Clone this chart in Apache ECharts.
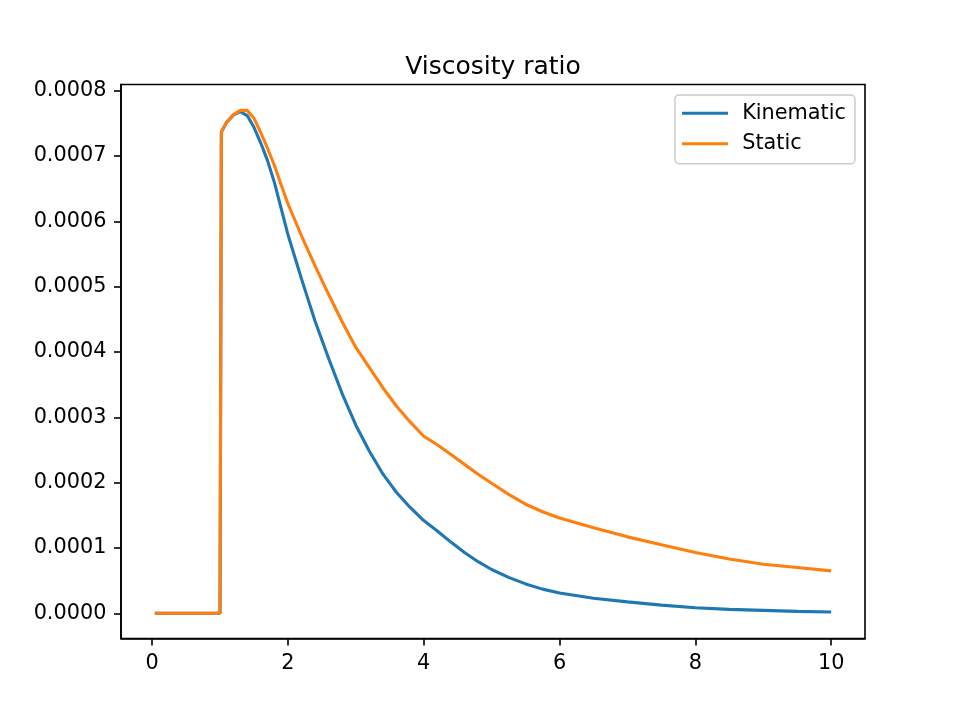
<!DOCTYPE html>
<html>
<head>
<meta charset="utf-8">
<script src="https://cdn.jsdelivr.net/npm/echarts@6/dist/echarts.min.js"></script>
<style>
html,body{margin:0;padding:0;background:#fff;}
#chart{width:961px;height:719px;}
</style>
</head>
<body>
<div id="chart"></div>
<script>
const titleText = 'Viscosity ratio';
const seriesNames = ['Kinematic', 'Static'];
const xValues = [0.04, 0.5, 1.0, 1.02, 1.1, 1.2, 1.3, 1.4, 1.5, 1.6, 1.7, 1.8, 1.9, 2.0, 2.2, 2.4, 2.6, 2.8, 3.0, 3.2, 3.4, 3.6, 3.8, 4.0, 4.2, 4.4, 4.6, 4.8, 5.0, 5.25, 5.5, 5.75, 6.0, 6.5, 7.0, 7.5, 8.0, 8.5, 9.0, 9.5, 10.0];
const kinematic = [0, 0, 0, 7.37e-4, 7.52e-4, 7.63e-4, 7.68e-4, 7.62e-4, 7.44e-4, 7.2e-4, 6.93e-4, 6.6e-4, 6.2e-4, 5.8e-4, 5.12e-4, 4.47e-4, 3.9e-4, 3.36e-4, 2.88e-4, 2.48e-4, 2.13e-4, 1.85e-4, 1.62e-4, 1.42e-4, 1.26e-4, 1.09e-4, 0.93e-4, 0.79e-4, 0.67e-4, 0.55e-4, 0.45e-4, 0.37e-4, 0.31e-4, 0.23e-4, 0.175e-4, 0.125e-4, 0.085e-4, 0.06e-4, 0.045e-4, 0.03e-4, 0.02e-4];
const staticRatio = [0, 0, 0, 7.37e-4, 7.52e-4, 7.64e-4, 7.70e-4, 7.70e-4, 7.58e-4, 7.36e-4, 7.12e-4, 6.86e-4, 6.56e-4, 6.27e-4, 5.78e-4, 5.32e-4, 4.88e-4, 4.46e-4, 4.07e-4, 3.76e-4, 3.45e-4, 3.17e-4, 2.93e-4, 2.71e-4, 2.58e-4, 2.43e-4, 2.28e-4, 2.13e-4, 1.99e-4, 1.82e-4, 1.67e-4, 1.555e-4, 1.46e-4, 1.31e-4, 1.17e-4, 1.05e-4, 0.93e-4, 0.83e-4, 0.75e-4, 0.70e-4, 0.65e-4];
const xTicks = [0, 2, 4, 6, 8, 10];
const yTicks = [0, 0.0001, 0.0002, 0.0003, 0.0004, 0.0005, 0.0006, 0.0007, 0.0008];

const FONT = 'DejaVu Sans';
const chart = echarts.init(document.getElementById('chart'), null, {renderer: 'canvas'});
const pairs = (ys) => xValues.map((x, i) => [x, ys[i]]);
const axisLine = {show: true, onZero: false, lineStyle: {color: '#000', width: 1.6}};
const tick = (vals) => ({show: true, inside: false, length: 7, lineStyle: {color: '#000', width: 1.6}, customValues: vals});

chart.setOption({
  animation: false,
  backgroundColor: '#ffffff',
  title: {
    text: titleText,
    left: 488, textAlign: 'center',
    top: 50,
    textStyle: {fontFamily: FONT, fontSize: 25, fontWeight: 'normal', color: '#000'}
  },
  grid: {
    left: 121, top: 84.5, width: 744, height: 554,
    show: true, borderColor: '#000', borderWidth: 1.6, backgroundColor: 'transparent'
  },
  legend: {
    orient: 'vertical',
    left: 675, top: 95,
    padding: [7.7, 9, 9.4, 7],
    itemGap: 9.6,
    icon: 'rect',
    itemWidth: 46, itemHeight: 3,
    backgroundColor: 'rgba(255,255,255,0.8)',
    borderColor: '#cccccc', borderWidth: 1.5, borderRadius: 4,
    textStyle: {fontFamily: FONT, fontSize: 20.8, color: '#000', lineHeight: 20, padding: [0, 0, 0, 9.2]},
    data: seriesNames
  },
  xAxis: {
    type: 'value', min: -0.458, max: 10.498,
    axisLine: axisLine,
    splitLine: {show: false},
    axisTick: tick(xTicks),
    axisLabel: {fontFamily: FONT, fontSize: 20.8, color: '#000', margin: 15, customValues: xTicks,
      formatter: v => String(Math.round(v))}
  },
  yAxis: {
    type: 'value', min: -0.0000386, max: 0.0008096,
    axisLine: axisLine,
    splitLine: {show: false},
    axisTick: tick(yTicks),
    axisLabel: {fontFamily: FONT, fontSize: 20.8, color: '#000', margin: 14.6, customValues: yTicks,
      formatter: v => v.toFixed(4)}
  },
  series: [
    {name: seriesNames[0], type: 'line', data: pairs(kinematic), symbol: 'none', smooth: false,
      lineStyle: {color: '#1f77b4', width: 3.1}, itemStyle: {color: '#1f77b4'}},
    {name: seriesNames[1], type: 'line', data: pairs(staticRatio), symbol: 'none', smooth: false,
      lineStyle: {color: '#ff7f0e', width: 3.1}, itemStyle: {color: '#ff7f0e'}}
  ]
});
</script>
</body>
</html>
